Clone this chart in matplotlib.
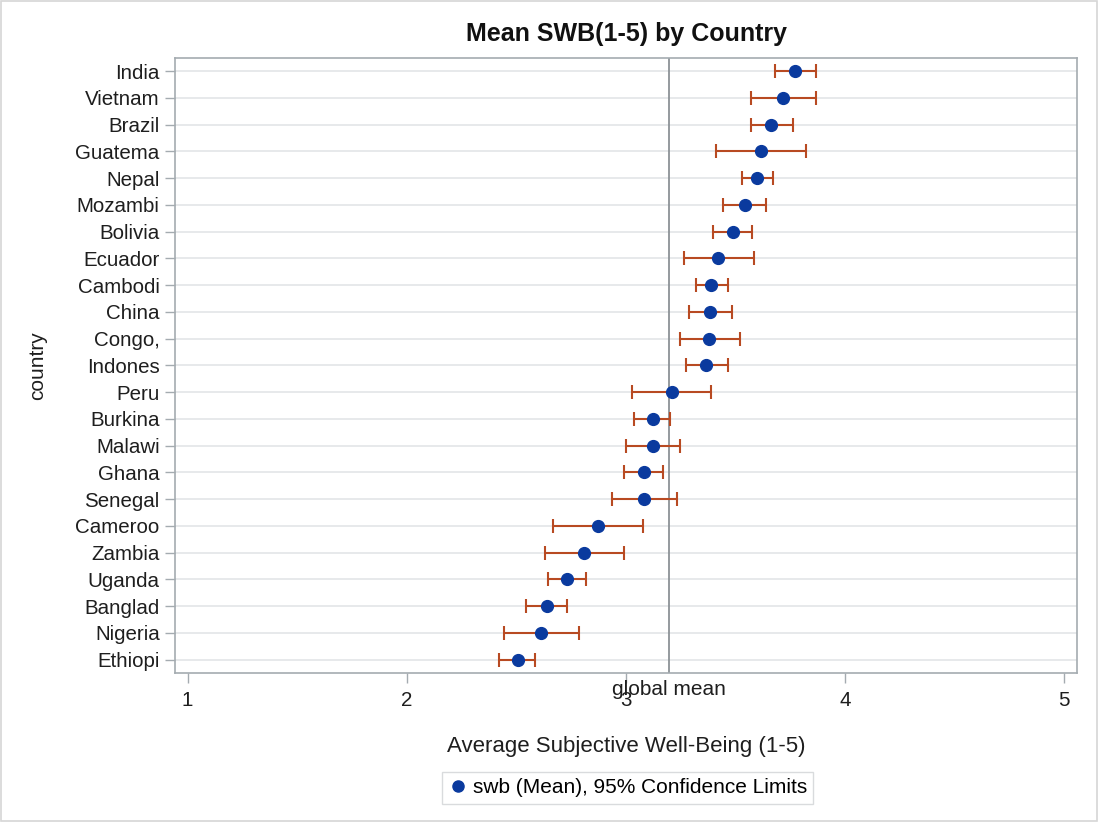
import matplotlib
matplotlib.use("Agg")
import matplotlib.pyplot as plt
from matplotlib.lines import Line2D

plt.rcParams['font.family'] = ['Liberation Sans', 'DejaVu Sans']

countries = ["India", "Vietnam", "Brazil", "Guatema", "Nepal", "Mozambi", "Bolivia",
             "Ecuador", "Cambodi", "China", "Congo,", "Indones", "Peru", "Burkina",
             "Malawi", "Ghana", "Senegal", "Cameroo", "Zambia", "Uganda", "Banglad",
             "Nigeria", "Ethiopi"]
mean_swb = [3.771, 3.717, 3.662, 3.616, 3.600, 3.545, 3.490, 3.420, 3.390, 3.382,
            3.381, 3.365, 3.210, 3.122, 3.122, 3.084, 3.084, 2.873, 2.810, 2.731,
            2.639, 2.614, 2.506]
lower_cl = [3.679, 3.571, 3.571, 3.413, 3.531, 3.444, 3.399, 3.264, 3.318, 3.288,
            3.248, 3.273, 3.029, 3.038, 2.999, 2.991, 2.938, 2.669, 2.631, 2.646,
            2.546, 2.444, 2.420]
upper_cl = [3.867, 3.867, 3.764, 3.820, 3.671, 3.639, 3.577, 3.586, 3.467, 3.484,
            3.522, 3.467, 3.390, 3.201, 3.248, 3.171, 3.235, 3.078, 2.991, 2.819,
            2.733, 2.786, 2.584]
global_mean = 3.195
x_ticks = [1, 2, 3, 4, 5]

dot_color = "#0a3a9e"
bar_color = "#b84a22"
frame_color = "#a4abb0"
text_color = "#1e1e1e"

fig = plt.figure(figsize=(10.98, 8.22), dpi=100)
ax = fig.add_axes([0.1594, 0.1813, 0.8215, 0.7485])

ypos = list(range(len(countries)))
for y in ypos:
    ax.axhline(y, color="#e3e5e7", lw=1.2, zorder=0)

ax.axvline(global_mean, color="#8c9296", lw=1.3, zorder=1)

xerr = [[m - lo for m, lo in zip(mean_swb, lower_cl)],
        [hi - m for m, hi in zip(mean_swb, upper_cl)]]
ax.errorbar(mean_swb, ypos, xerr=xerr, fmt="none", ecolor=bar_color,
            elinewidth=1.5, capsize=5.2, capthick=1.5, zorder=2)
ax.plot(mean_swb, ypos, "o", color=dot_color, markersize=8.5, zorder=3)

ax.set_xlim(0.943, 5.058)
ax.set_ylim(len(countries) - 0.5, -0.5)
ax.set_yticks(ypos)
ax.set_yticklabels(countries)
ax.set_xticks(x_ticks)
ax.set_xticklabels([str(t) for t in x_ticks])

for s in ax.spines.values():
    s.set_color(frame_color)
    s.set_linewidth(1.2)
ax.tick_params(axis="both", colors=frame_color, labelcolor=text_color,
               labelsize=14.8, length=7, width=1.0)
ax.tick_params(axis="y", pad=4)
ax.tick_params(axis="x", pad=6)

ax.text(global_mean, -0.012, "global mean", transform=ax.get_xaxis_transform(),
        ha="center", va="top", fontsize=15, color=text_color)

ax.set_title("Mean SWB(1-5) by Country", fontsize=18, fontweight="bold",
             pad=12, color="#111111")
ax.set_xlabel("Average Subjective Well-Being (1-5)", fontsize=16,
              color=text_color)
ax.xaxis.set_label_coords(0.5, -0.103)
ax.set_ylabel("country", fontsize=15, color=text_color)
ax.yaxis.set_label_coords(-0.142, 0.5)

handle = Line2D([], [], marker="o", linestyle="none", color=dot_color, markersize=8)
fig.legend([handle], ["swb (Mean), 95% Confidence Limits"], loc="center",
           bbox_to_anchor=(0.5715, 0.0415), fontsize=15, frameon=True,
           fancybox=False, edgecolor="#d0d3d5", handletextpad=0.2,
           borderpad=0.3, handlelength=1.0, borderaxespad=0.0)

fig.add_artist(plt.Rectangle((0.001, 0.001), 0.998, 0.998, transform=fig.transFigure,
                             fill=False, edgecolor="#d6d6d6", lw=1.2))

fig.savefig("out.png", dpi=100)
